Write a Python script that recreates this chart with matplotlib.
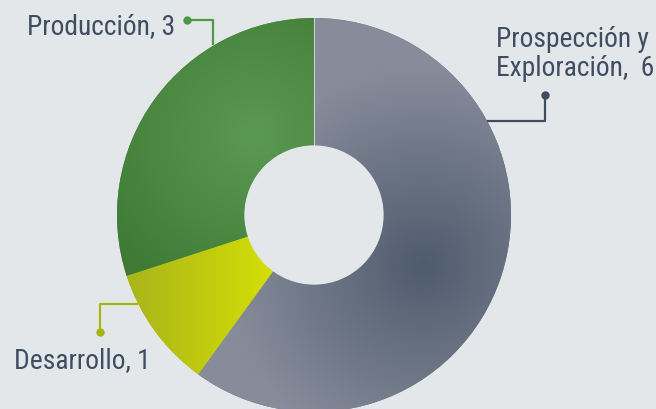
import matplotlib.pyplot as plt
import numpy as np
from matplotlib.colors import LinearSegmentedColormap

labels = ["Prospección y\nExploración,  6", "Desarrollo, 1", "Producción, 3"]
values = [6, 1, 3]
colors = ["#6a7282", "#bccb12", "#4c8c40"]
shades = [("#878c9a", "#4f5c6e"), ("#a6b21c", "#d2dc06"), ("#3f7a35", "#5b9a52")]

W, H = 656, 410
bg = "#e4e7ea"
txt = "#3e4d61"

fig = plt.figure(figsize=(W / 100, H / 100), dpi=100, facecolor=bg)
ax = fig.add_axes([0, 0, 1, 1])

cx, cy, r = 314, H - 216, 197
wedges, _ = ax.pie(values, colors=colors, startangle=90, counterclock=False,
                   center=(cx, cy), radius=r, frame=True,
                   wedgeprops=dict(width=r * 0.65, edgecolor="none"))
ax.set_xlim(0, W)
ax.set_ylim(0, H)
ax.set_aspect("equal")
ax.set_facecolor(bg)
ax.axis("off")

# soft shading inside each slice
xx, yy = np.meshgrid(np.linspace(cx - r, cx + r, 300), np.linspace(cy - r, cy + r, 300))
fields = [
    1 - np.clip(np.hypot(xx - (cx + 110), yy - (cy - 50)) / 200, 0, 1),
    np.clip((xx - (cx - 200)) / 150, 0, 1),
    1 - np.clip(np.hypot(xx - (cx - 60), yy - (cy + 80)) / 180, 0, 1),
]
for w, f, (c0, c1) in zip(wedges, fields, shades):
    cmap = LinearSegmentedColormap.from_list("s", [c0, c1])
    im = ax.imshow(f, cmap=cmap, extent=(cx - r, cx + r, cy - r, cy + r),
                   origin="lower", zorder=1.5, interpolation="bilinear")
    im.set_clip_path(w)

# thin light seam between green and grey at the top
ax.plot([cx, cx], [cy + r * 0.35, cy + r], color="#c9ccd2", lw=0.8, zorder=2)

hole = plt.Circle((cx, cy), r * 0.35, color=bg, zorder=3)
ax.add_patch(hole)


def Y(v):
    return H - v


lines = [
    ([545, 545, 488], [96, 122, 122], "#3e4d61"),
    ([100, 100, 137], [333, 305, 305], "#a8b410"),
    ([187, 213, 213], [21, 21, 45], "#4c9a45"),
]
for xs, ys, c in lines:
    ax.plot(xs, [Y(v) for v in ys], color=c, lw=1.6, zorder=4)
    ax.plot(xs[0], Y(ys[0]), "o", color=c, ms=5, zorder=4)

font = dict(family=["Liberation Sans Narrow", "Roboto Condensed", "Roboto"],
            fontsize=19.8, color=txt, va="baseline", ha="left")
l0a, l0b = labels[0].split("\n")
ax.text(496, Y(47), l0a, **font)
ax.text(496, Y(76), l0b, **font)
ax.text(14, Y(368), labels[1], **font)
ax.text(27, Y(34), labels[2], **font)

fig.savefig("out.png", dpi=100, facecolor=bg)
